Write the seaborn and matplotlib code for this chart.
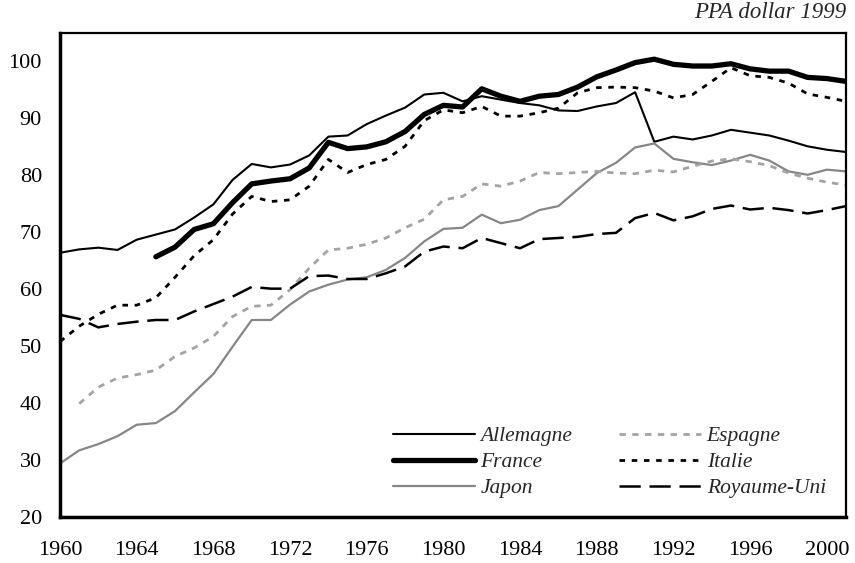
import numpy as np
import pandas as pd
import matplotlib
matplotlib.use("Agg")
import matplotlib.pyplot as plt
import seaborn as sns

# ---- data ----
years_all = list(range(1960, 2002))
years_fr = list(range(1965, 2002))
years_es = list(range(1961, 2002))

allemagne = [66.4, 67.0, 67.3, 66.9, 68.7, 69.6, 70.5, 72.6, 74.9, 79.2,
             82.0, 81.4, 81.9, 83.5, 86.8, 87.0, 89.0, 90.5, 91.9, 94.2,
             94.5, 93.0, 93.9, 93.3, 92.7, 92.3, 91.4, 91.3, 92.1, 92.7,
             94.6, 85.9, 86.8, 86.3, 87.0, 88.0, 87.5, 87.0, 86.1, 85.1,
             84.5, 84.1]
france = [65.7, 67.4, 70.5, 71.5, 75.2, 78.5, 79.0, 79.4, 81.3, 85.8,
          84.7, 85.0, 85.9, 87.7, 90.7, 92.3, 92.0, 95.2, 93.9, 93.0,
          93.9, 94.2, 95.5, 97.3, 98.5, 99.8, 100.4, 99.5, 99.2, 99.2,
          99.6, 98.7, 98.3, 98.3, 97.2, 97.0, 96.5]
japon = [29.4, 31.7, 32.8, 34.2, 36.2, 36.5, 38.6, 41.9, 45.1, 49.9,
         54.6, 54.6, 57.3, 59.6, 60.8, 61.7, 62.1, 63.4, 65.5, 68.4,
         70.6, 70.8, 73.1, 71.6, 72.2, 73.9, 74.6, 77.5, 80.4, 82.2,
         84.9, 85.6, 82.9, 82.3, 81.8, 82.6, 83.6, 82.6, 80.7, 80.1,
         81.0, 80.7]
espagne = [39.9, 42.8, 44.4, 45.0, 45.8, 48.2, 49.7, 51.7, 55.2,
           57.0, 57.2, 59.9, 63.7, 66.9, 67.2, 67.9, 69.0, 70.8, 72.3,
           75.7, 76.3, 78.5, 78.1, 79.0, 80.5, 80.3, 80.5, 80.7, 80.4,
           80.3, 80.9, 80.6, 81.6, 82.5, 82.9, 82.4, 81.7, 80.4, 79.5,
           78.8, 78.3]
italie = [50.8, 53.5, 55.6, 57.2, 57.2, 58.5, 62.1, 65.9, 68.7, 73.2,
          76.3, 75.4, 75.7, 78.1, 82.8, 80.5, 81.9, 82.8, 85.1, 89.6,
          91.5, 91.0, 92.1, 90.4, 90.4, 91.0, 91.8, 94.5, 95.4, 95.5,
          95.4, 94.8, 93.6, 94.2, 96.5, 98.9, 97.5, 97.2, 96.2, 94.3,
          93.7, 93.0]
royaume_uni = [55.5, 54.8, 53.3, 53.9, 54.3, 54.6, 54.6, 56.1, 57.4, 58.7,
               60.4, 60.1, 60.1, 62.3, 62.4, 61.8, 61.8, 62.8, 64.0, 66.6,
               67.5, 67.2, 69.0, 68.1, 67.2, 68.8, 69.0, 69.2, 69.7, 69.9,
               72.5, 73.4, 72.1, 72.8, 74.1, 74.7, 74.0, 74.3, 73.9, 73.3,
               73.9, 74.6]

x_ticks = list(range(1960, 2001, 4))
y_ticks = list(range(20, 101, 10))
unit_label = "PPA dollar 1999"

# ---- style ----
sns.set_theme(style="white")
plt.rcParams['font.family'] = ['Liberation Serif', 'DejaVu Serif']

fig = plt.figure(figsize=(8.55, 5.63), dpi=100)
ax = fig.add_axes([60/855, 1-517/563, (846-60)/855, (517-33)/563])

series = [
    ("Allemagne", years_all, allemagne, dict(color="black", lw=1.5, linestyle="-")),
    ("France", years_fr, france, dict(color="black", lw=3.8, linestyle="-", solid_capstyle="round")),
    ("Japon", years_all, japon, dict(color="#868686", lw=1.6, linestyle="-")),
    ("Espagne", years_es, espagne, dict(color="#a3a3a3", lw=2.0, linestyle=(0, (2.3, 2.3)))),
    ("Italie", years_all, italie, dict(color="black", lw=2.0, linestyle=(0, (2.0, 2.4)))),
    ("Royaume-Uni", years_all, royaume_uni, dict(color="black", lw=1.8, linestyle=(0, (8.5, 3.5)))),
]

for name, xs, ys, kw in series:
    df = pd.DataFrame({"annee": xs, "val": ys})
    sns.lineplot(data=df, x="annee", y="val", ax=ax, label=name, **kw)

ax.set_xlim(1960, 2001)
ax.set_ylim(20, 105)
ax.set_xticks(x_ticks)
ax.set_yticks(y_ticks)
ax.set_xlabel("")
ax.set_ylabel("")
ax.tick_params(axis="both", direction="in", length=5.5, width=1.4,
               labelsize=16, colors="black")
ax.tick_params(axis="x", pad=17)
ax.tick_params(axis="y", pad=13)
for side, sp in ax.spines.items():
    sp.set_visible(True)
    sp.set_color("black")
    sp.set_linewidth(2.5 if side in ("left", "bottom") else 1.6)

leg = ax.legend(ncol=2, loc="upper left",
                bbox_to_anchor=(393/855, 1-426/563), bbox_transform=fig.transFigure,
                frameon=False, handlelength=3.8, handletextpad=0.25,
                columnspacing=2.2, labelspacing=0.28, borderpad=0, borderaxespad=0,
                prop={"family": "Liberation Serif", "style": "italic", "size": 15.5})

fig.text(846/855, 1-12/563, unit_label, ha="right", va="center",
         fontsize=16.5, style="italic", family="Liberation Serif")

fig.savefig("out.png", dpi=100)
